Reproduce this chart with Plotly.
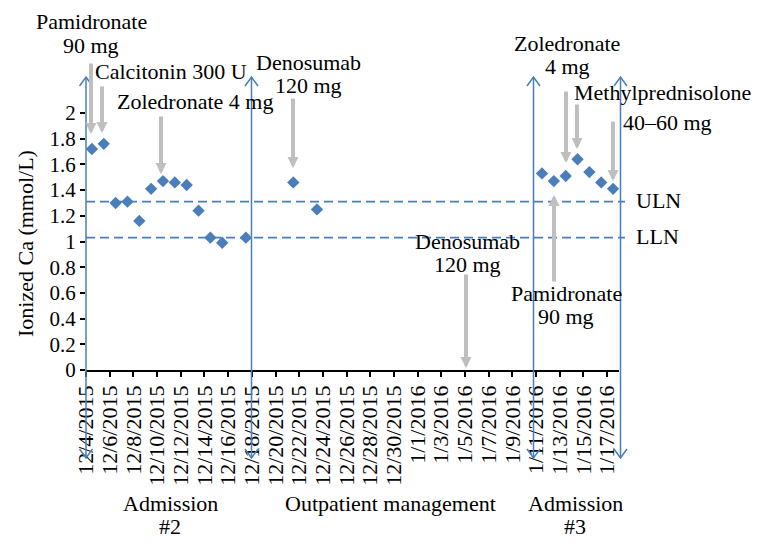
import plotly.graph_objects as go
import pandas as pd

# ---------------- data ----------------
dates = ["2015-12-04", "2015-12-05", "2015-12-06", "2015-12-07", "2015-12-08",
         "2015-12-09", "2015-12-10", "2015-12-11", "2015-12-12", "2015-12-13",
         "2015-12-14", "2015-12-15", "2015-12-17", "2015-12-21", "2015-12-23",
         "2016-01-11", "2016-01-12", "2016-01-13", "2016-01-14", "2016-01-15",
         "2016-01-16", "2016-01-17"]
ionized_ca = [1.72, 1.76, 1.30, 1.31, 1.16,
              1.41, 1.47, 1.46, 1.44, 1.24,
              1.03, 0.99, 1.03, 1.46, 1.25,
              1.53, 1.47, 1.51, 1.64, 1.54,
              1.46, 1.41]
uln_value = 1.31
lln_value = 1.03
tick_dates = ["2015-12-04", "2015-12-06", "2015-12-08", "2015-12-10", "2015-12-12",
              "2015-12-14", "2015-12-16", "2015-12-18", "2015-12-20", "2015-12-22",
              "2015-12-24", "2015-12-26", "2015-12-28", "2015-12-30", "2016-01-01",
              "2016-01-03", "2016-01-05", "2016-01-07", "2016-01-09", "2016-01-11",
              "2016-01-13", "2016-01-15", "2016-01-17"]
tick_labels = ["12/4/2015", "12/6/2015", "12/8/2015", "12/10/2015", "12/12/2015",
               "12/14/2015", "12/16/2015", "12/18/2015", "12/20/2015", "12/22/2015",
               "12/24/2015", "12/26/2015", "12/28/2015", "12/30/2015", "1/1/2016",
               "1/3/2016", "1/5/2016", "1/7/2016", "1/9/2016", "1/11/2016",
               "1/13/2016", "1/15/2016", "1/17/2016"]
y_ticks = [0, 0.2, 0.4, 0.6, 0.8, 1, 1.2, 1.4, 1.6, 1.8, 2]

# ---------------- layout geometry (page pixels) ----------------
PAGE_W, PAGE_H = 764, 547
OFF = 8  # default body margin of the html page
W, H = PAGE_W - OFF, PAGE_H - OFF
PLOT_L, PLOT_R, PLOT_T, PLOT_B = 86, 619, 113, 370   # plot area in page pixels
PW, PH = PLOT_R - PLOT_L, PLOT_B - PLOT_T
FONT = "Liberation Serif, Times New Roman, serif"
BLUE = "#4A7EBB"
GREY = "#BFBFBF"


def px(x):
    return (x - PLOT_L) / PW


def py(y):
    return (PLOT_B - y) / PH


# points centred in their day slot (Excel date axis, between tick marks)
x_points = pd.to_datetime(dates) + pd.Timedelta(hours=12)

fig = go.Figure()
fig.add_trace(go.Scatter(
    x=x_points, y=ionized_ca, mode="markers",
    marker=dict(symbol="diamond", size=9.5, color=BLUE, line=dict(width=0)),
    showlegend=False, hoverinfo="skip"))

shapes = []
# ULN / LLN dashed lines
for v in (uln_value, lln_value):
    shapes.append(dict(type="line", xref="paper", yref="y", x0=0, x1=px(625),
                       y0=v, y1=v, line=dict(color=BLUE, width=1.6, dash="9px,5px")))

# blue double-headed vertical arrows (period separators)
for xa in (86, 251.5, 533.5, 620.5):
    top, bot = 77, 458
    shapes.append(dict(type="line", xref="paper", yref="paper",
                       x0=px(xa), x1=px(xa), y0=py(top), y1=py(bot),
                       line=dict(color=BLUE, width=1.5)))
    path_top = f"M {px(xa-6.5)},{py(top+9)} L {px(xa)},{py(top)} L {px(xa+6.5)},{py(top+9)}"
    path_bot = f"M {px(xa-6.5)},{py(bot-9)} L {px(xa)},{py(bot)} L {px(xa+6.5)},{py(bot-9)}"
    for p in (path_top, path_bot):
        shapes.append(dict(type="path", xref="paper", yref="paper", path=p,
                           line=dict(color=BLUE, width=1.5)))

annotations = []

# grey treatment arrows: (x, tail_y, head_y)
grey_arrows = [(91, 62, 134), (102, 85, 133), (161, 115, 174), (293, 97, 168),
               (466, 273, 368), (566, 90, 163), (577, 103, 149), (613, 120, 181),
               (554, 283, 195)]
for xg, ty, hy in grey_arrows:
    annotations.append(dict(xref="paper", yref="paper", x=px(xg), y=py(hy),
                            ax=0, ay=ty - hy, axref="pixel", ayref="pixel",
                            text="", showarrow=True, arrowhead=2, arrowsize=0.55,
                            arrowwidth=4, arrowcolor=GREY, standoff=0))


def add_text(lines, cx, y0, spacing=23.5, size=22):
    for i, s in enumerate(lines):
        annotations.append(dict(xref="paper", yref="paper", x=px(cx), y=py(y0 + i * spacing),
                                xanchor="center", yanchor="middle", showarrow=False,
                                text=s, font=dict(family=FONT, size=size, color="black")))


add_text(["Pamidronate", "90 mg"], 91, 22)
add_text(["Calcitonin 300 U"], 171, 72)
add_text(["Zoledronate 4 mg"], 195, 102)
add_text(["Denosumab", "120 mg"], 308, 62)
add_text(["Denosumab", "120 mg"], 467, 241, spacing=23.5)
add_text(["Zoledronate", "4 mg"], 567, 43)
add_text(["Methylprednisolone"], 662, 92)
add_text(["40\u201360 mg"], 667, 122)
add_text(["Pamidronate", "90 mg"], 566, 293)
add_text(["ULN"], 658, 200)
add_text(["LLN"], 657, 236)
add_text(["Admission", "#2"], 170, 503)
add_text(["Outpatient management"], 390, 503)
add_text(["Admission", "#3"], 575, 503)

# y-axis title
annotations.append(dict(xref="paper", yref="paper", x=px(25), y=py(244),
                        xanchor="center", yanchor="middle", showarrow=False,
                        textangle=-90, text="Ionized Ca (mmol/L)",
                        font=dict(family=FONT, size=22, color="black")))

fig.update_layout(
    width=W, height=H,
    margin=dict(l=PLOT_L - OFF, r=W - (PLOT_R - OFF), t=PLOT_T - OFF,
                b=H - (PLOT_B - OFF), pad=0),
    paper_bgcolor="white", plot_bgcolor="white",
    shapes=shapes, annotations=annotations,
    font=dict(family=FONT, color="black"),
    xaxis=dict(type="date", range=["2015-12-04", "2016-01-18"],
               tickmode="array", tickvals=tick_dates, ticktext=tick_labels,
               tickangle=-90, tickfont=dict(family=FONT, size=22, color="black"),
               showline=True, linecolor="black", linewidth=1.5,
               ticks="outside", ticklen=5, tickwidth=1.5, tickcolor="black",
               showgrid=False, zeroline=False, fixedrange=True),
    yaxis=dict(range=[0, 2], tickmode="array", tickvals=y_ticks,
               tickfont=dict(family=FONT, size=21, color="black"),
               showline=False, ticks="outside", ticklen=5, tickwidth=1.5,
               tickcolor="black", showgrid=False, zeroline=False, fixedrange=True),
)

fig.write_html("out.html")
